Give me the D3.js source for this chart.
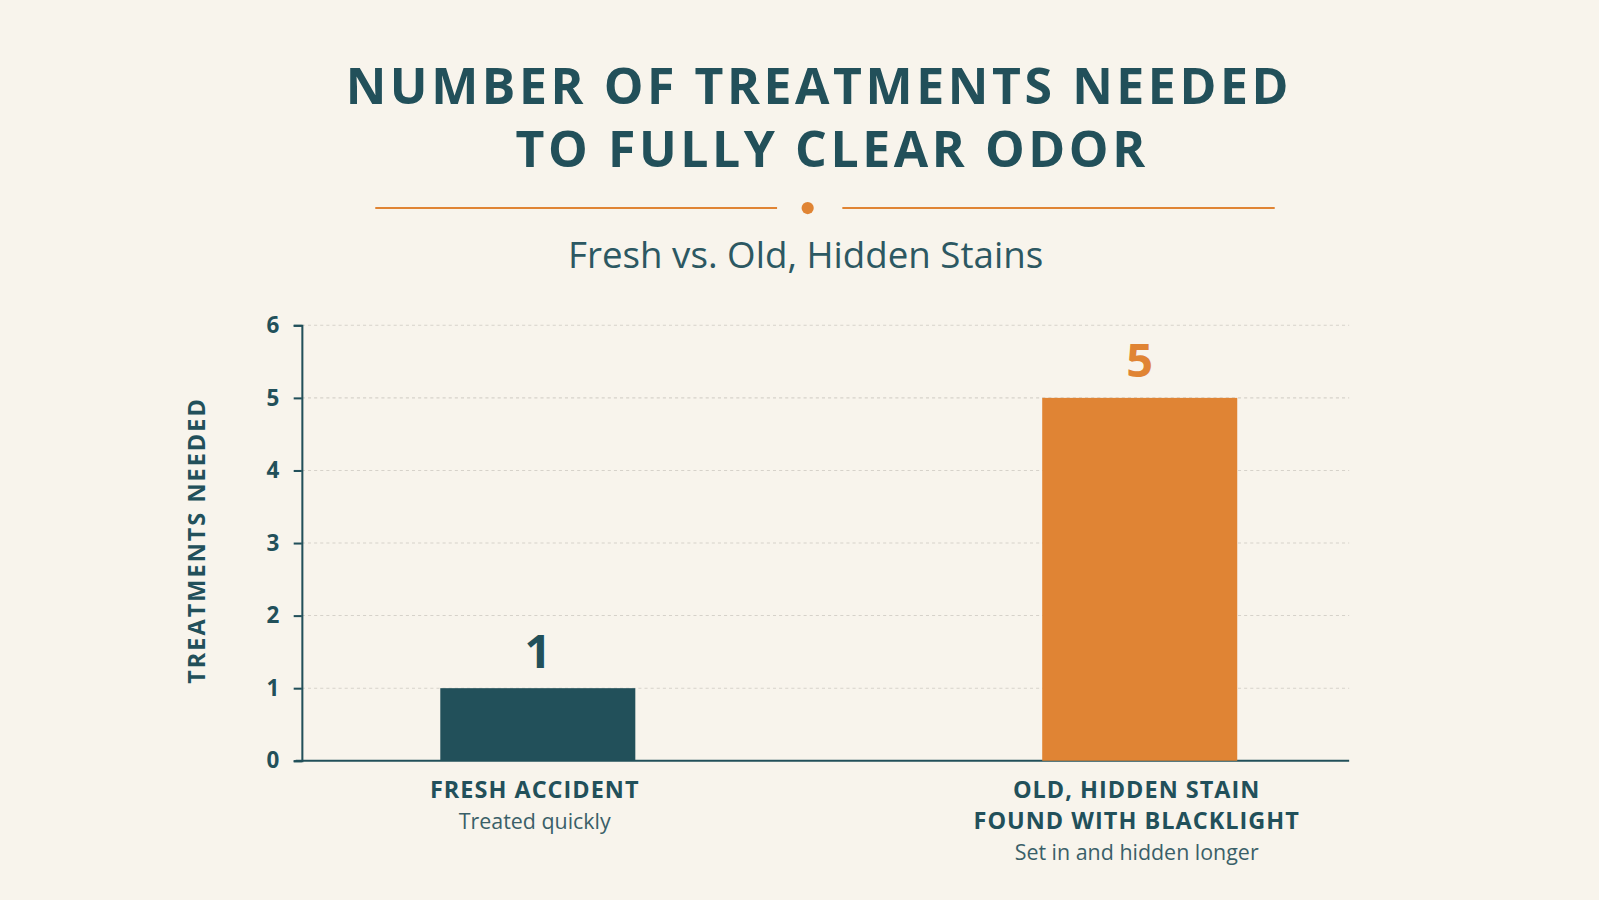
<!DOCTYPE html>
<html><head><meta charset="utf-8">
<script src="https://cdn.jsdelivr.net/npm/d3@7"></script>
<style>body{margin:0;background:#f8f4ec;}svg{display:block;font-family:"Open Sans",sans-serif;}</style>
</head><body><svg id="chart" width="1599" height="900"></svg>
<script>
var categories = ["Fresh accident", "Old, hidden stain"];
var labelLines = [["FRESH ACCIDENT"], ["OLD, HIDDEN STAIN", "FOUND WITH BLACKLIGHT"]];
var subLabels = ["Treated quickly", "Set in and hidden longer"];
var values = [1, 5];
var yTicks = [0, 1, 2, 3, 4, 5, 6];
var colors = ["#22505a", "#e08434"];

var dark = "#22505a";
var root = d3.select("#chart");
root.append("rect").attr("width", 1599).attr("height", 900).attr("fill", "#f8f4ec");
var svg = root.append("g").attr("transform", "scale(" + (1599 / 1568) + ")");

// title
svg.append("text").attr("x", 803).attr("y", 102).attr("text-anchor", "middle")
  .attr("font-size", 49).attr("font-weight", "bold").attr("letter-spacing", 3.5).attr("fill", dark)
  .text("NUMBER OF TREATMENTS NEEDED");
svg.append("text").attr("x", 816).attr("y", 164).attr("text-anchor", "middle")
  .attr("font-size", 49).attr("font-weight", "bold").attr("letter-spacing", 3.5).attr("fill", dark)
  .text("TO FULLY CLEAR ODOR");
svg.append("line").attr("x1", 368).attr("x2", 762).attr("y1", 204).attr("y2", 204).attr("stroke", "#e08434").attr("stroke-width", 2);
svg.append("line").attr("x1", 826).attr("x2", 1250).attr("y1", 204).attr("y2", 204).attr("stroke", "#e08434").attr("stroke-width", 2);
svg.append("circle").attr("cx", 792).attr("cy", 204).attr("r", 6).attr("fill", "#e08434");
svg.append("text").attr("x", 790).attr("y", 263).attr("text-anchor", "middle")
  .attr("font-size", 36).attr("fill", "#2c5862").text("Fresh vs. Old, Hidden Stains");

var x = d3.scaleBand().domain(categories).range([296, 1349]).paddingInner(0.676).paddingOuter(0.23);
var y = d3.scaleLinear().domain([0, 6]).range([746, 319]);

// grid
svg.selectAll(".grid").data(yTicks.slice(1)).enter().append("line")
  .attr("x1", 296).attr("x2", 1323).attr("y1", d => y(d)).attr("y2", d => y(d))
  .attr("stroke", "#d6d2ca").attr("stroke-dasharray", "3,3");

var yAxis = svg.append("g").attr("transform", "translate(296,0)")
  .call(d3.axisLeft(y).tickValues(yTicks).tickFormat(d3.format("d")).tickSize(8).tickPadding(14));
yAxis.select(".domain").attr("stroke", dark).attr("stroke-width", 2);
yAxis.selectAll(".tick line").attr("stroke", dark).attr("stroke-width", 2);
yAxis.selectAll(".tick text").attr("font-size", 22).attr("font-weight", "bold").attr("fill", dark).attr("font-family", "Open Sans");

svg.append("line").attr("x1", 290).attr("x2", 1323).attr("y1", 746).attr("y2", 746).attr("stroke", dark).attr("stroke-width", 2);

svg.append("text").attr("transform", "translate(201,530) rotate(-90)").attr("text-anchor", "middle")
  .attr("font-size", 23).attr("font-weight", "bold").attr("letter-spacing", 2).attr("fill", dark)
  .text("TREATMENTS NEEDED");

// bars
svg.selectAll(".bar").data(values).enter().append("rect")
  .attr("x", (d, i) => x(categories[i])).attr("width", x.bandwidth())
  .attr("y", d => y(d)).attr("height", d => y(0) - y(d)).attr("fill", (d, i) => colors[i]);

svg.selectAll(".val").data(values).enter().append("text")
  .attr("x", (d, i) => x(categories[i]) + x.bandwidth() / 2).attr("y", d => y(d) - 20)
  .attr("text-anchor", "middle").attr("font-size", 46).attr("font-weight", "bold")
  .attr("fill", (d, i) => colors[i]).text(d => d);

categories.forEach(function(c, i) {
  var cx = x(c) + x.bandwidth() / 2 - 3;
  labelLines[i].forEach(function(l, j) {
    svg.append("text").attr("x", cx).attr("y", 783 + j * 30).attr("text-anchor", "middle")
      .attr("font-size", 23).attr("font-weight", "bold").attr("letter-spacing", 1).attr("fill", dark).text(l);
  });
  svg.append("text").attr("x", cx).attr("y", 813 + (labelLines[i].length - 1) * 30).attr("text-anchor", "middle")
    .attr("font-size", 21).attr("fill", "#3a5f68").text(subLabels[i]);
});
</script></body></html>
